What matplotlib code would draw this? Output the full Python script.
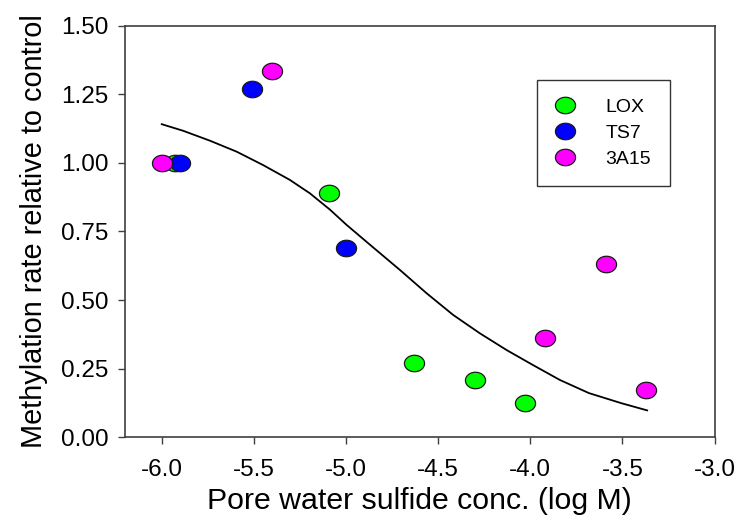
import numpy as np
import matplotlib.pyplot as plt
from matplotlib.path import Path

plt.rcParams['font.family'] = ['Liberation Sans', 'DejaVu Sans']

# sulfide (log M) vs methylation rate relative to control
lox_x = [-5.93, -5.09, -4.63, -4.30, -4.03]
lox_y = [1.00, 0.89, 0.27, 0.21, 0.125]
ts7_x = [-5.90, -5.51, -5.00]
ts7_y = [1.00, 1.27, 0.69]
a15_x = [-6.00, -5.40, -3.92, -3.59, -3.37]
a15_y = [1.00, 1.335, 0.36, 0.63, 0.174]

# fitted curve
fit_x = [-6.0, -5.884, -5.739, -5.594, -5.45, -5.305, -5.196, -5.088, -4.997,
         -4.853, -4.708, -4.563, -4.419, -4.274, -4.129, -3.985, -3.84,
         -3.682, -3.505, -3.366]
fit_y = [1.141, 1.117, 1.081, 1.041, 0.992, 0.938, 0.889, 0.83, 0.774,
         0.692, 0.61, 0.525, 0.446, 0.379, 0.318, 0.263, 0.209,
         0.161, 0.124, 0.098]

xticks = [-6.0, -5.5, -5.0, -4.5, -4.0, -3.5, -3.0]
yticks = [0.0, 0.25, 0.5, 0.75, 1.0, 1.25, 1.5]

# slightly wide ellipse, like the stretched original
t = np.linspace(0, 2 * np.pi, 41)
oval = Path(np.column_stack([1.22 * np.cos(t), np.sin(t)]), closed=True)

fig = plt.figure(figsize=(7.39, 5.21), dpi=100)
ax = fig.add_axes([0.169, 0.1607, 0.798, 0.790])

ax.plot(fit_x, fit_y, color='black', lw=1.3, zorder=2)
ms = 14.5
ax.plot(lox_x, lox_y, ls='none', marker=oval, ms=ms, mfc='#00ff00', mec='#1a1a1a', mew=0.9, label='LOX', zorder=3)
ax.plot(ts7_x, ts7_y, ls='none', marker=oval, ms=ms, mfc='#0000ff', mec='#1a1a1a', mew=0.9, label='TS7', zorder=3)
ax.plot(a15_x, a15_y, ls='none', marker=oval, ms=ms, mfc='#ff00ff', mec='#1a1a1a', mew=0.9, label='3A15', zorder=3)

ax.set_xlim(-6.2, -3.0)
ax.set_ylim(0, 1.5)
ax.set_xticks(xticks)
ax.set_xticklabels(['%.1f' % v for v in xticks])
ax.set_yticks(yticks)
ax.set_yticklabels(['%.2f' % v for v in yticks])

for s in ax.spines.values():
    s.set_color('#404040')
    s.set_linewidth(1.2)
ax.tick_params(direction='out', length=5, width=1, color='#404040', labelsize=17.5)
ax.tick_params(axis='x', pad=11)
ax.tick_params(axis='y', pad=7)

ax.set_xlabel('Pore water sulfide conc. (log M)', fontsize=21.8, labelpad=4)
ax.set_ylabel('Methylation rate relative to control', fontsize=20.8, labelpad=9)

leg = ax.legend(loc='upper left', bbox_to_anchor=(0.698, 0.868), fontsize=14,
                frameon=True, fancybox=False, borderpad=0.95, handlelength=1.0,
                handletextpad=1.6, labelspacing=0.42, borderaxespad=0)
leg.get_frame().set_edgecolor('black')
leg.get_frame().set_linewidth(1.0)

fig.savefig('out.png', dpi=100)
